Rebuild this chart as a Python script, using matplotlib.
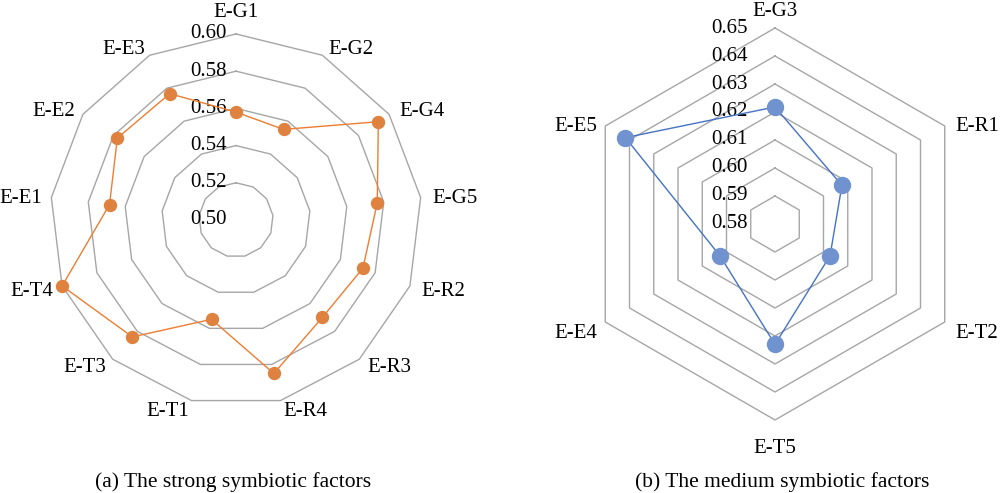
import numpy as np
import matplotlib.pyplot as plt
from matplotlib.transforms import offset_copy

plt.rcParams['font.family'] = ['Liberation Serif', 'DejaVu Serif']

# (a) strong symbiotic factors
strong_cats = ['E-G1', 'E-G2', 'E-G4', 'E-G5', 'E-R2', 'E-R3', 'E-R4',
               'E-T1', 'E-T3', 'E-T4', 'E-E1', 'E-E2', 'E-E3']
strong_vals = [0.558, 0.555, 0.593, 0.5765, 0.573, 0.570, 0.585,
               0.555, 0.584, 0.600, 0.5685, 0.5775, 0.5767]
strong_ticks = [0.50, 0.52, 0.54, 0.56, 0.58, 0.60]

# (b) medium symbiotic factors
medium_cats = ['E-G3', 'E-R1', 'E-T2', 'E-T5', 'E-E4', 'E-E5']
medium_vals = [0.6218, 0.6076, 0.6027, 0.623, 0.6027, 0.6417]
medium_ticks = [0.58, 0.59, 0.60, 0.61, 0.62, 0.63, 0.64, 0.65]

FS = 15
GRID = '#a6a6a6'


def radar(ax, cats, vals, ticks, line_c, mark_c, msize, tick_dx, dy0, dy1,
          top_gap, bot_gap):
    n = len(cats)
    theta = np.arange(n) * 2 * np.pi / n
    ax.set_theta_zero_location('N')
    ax.set_theta_direction(-1)
    ax.set_ylim(ticks[0], ticks[-1])
    ax.grid(False)
    ax.spines['polar'].set_visible(False)
    ax.set_xticks([])
    ax.set_yticks([])
    ax.patch.set_alpha(0)

    # polygon rings
    tt = np.append(theta, theta[0])
    for t in ticks[1:]:
        ax.plot(tt, [t] * (n + 1), color=GRID, lw=1.0, zorder=1, clip_on=False)

    # value labels along the vertical axis
    tr = offset_copy(ax.transData, fig=ax.figure, x=tick_dx, y=0, units='dots')
    for t in ticks:
        ax.text(0, t, '%.2f' % t, transform=tr, ha='right', va='center',
                fontsize=FS)

    # category labels (offsets in pixels)
    for th, c in zip(theta, cats):
        s, co = np.sin(th), np.cos(th)
        if abs(s) < 0.05:
            if co > 0:
                ha, va, off = 'center', 'baseline', (0, top_gap)
            else:
                ha, va, off = 'center', 'top', (0, -bot_gap)
        else:
            ha = 'left' if s > 0 else 'right'
            va = 'center'
            dx = 12 * s if s > 0 else 9.5 * s
            off = (dx, -(dy0 - dy1 * co))
        ax.annotate(c, xy=(th, ticks[-1]), xytext=off,
                    textcoords='offset pixels', ha=ha, va=va, fontsize=FS,
                    annotation_clip=False)

    vv = np.append(vals, vals[0])
    ax.plot(tt, vv, color=line_c, lw=1.0, zorder=3, clip_on=False)
    ax.plot(theta, vals, 'o', color=mark_c, ms=msize, mec=mark_c, zorder=4,
            clip_on=False)


fig = plt.figure(figsize=(10, 4.93), dpi=100)
ax1 = fig.add_axes([0.050, 0.1765, 0.372, 0.7546], projection='polar')
ax2 = fig.add_axes([0.579, 0.1481, 0.392, 0.7951], projection='polar')

radar(ax1, strong_cats, strong_vals, strong_ticks, '#ed7d31', '#e0823f',
      8.6, -9, 2, 9, 17, 10)
radar(ax2, medium_cats, medium_vals, medium_ticks, '#4472c4', '#7092cf',
      11.5, -27, 6.5, 11, 12, 19)

fig.text(0.233, 0.022, '(a) The strong symbiotic factors', ha='center',
         va='center', fontsize=15.5)
fig.text(0.782, 0.022, '(b) The medium symbiotic factors', ha='center',
         va='center', fontsize=15.5)

fig.savefig('out.png', dpi=100)
